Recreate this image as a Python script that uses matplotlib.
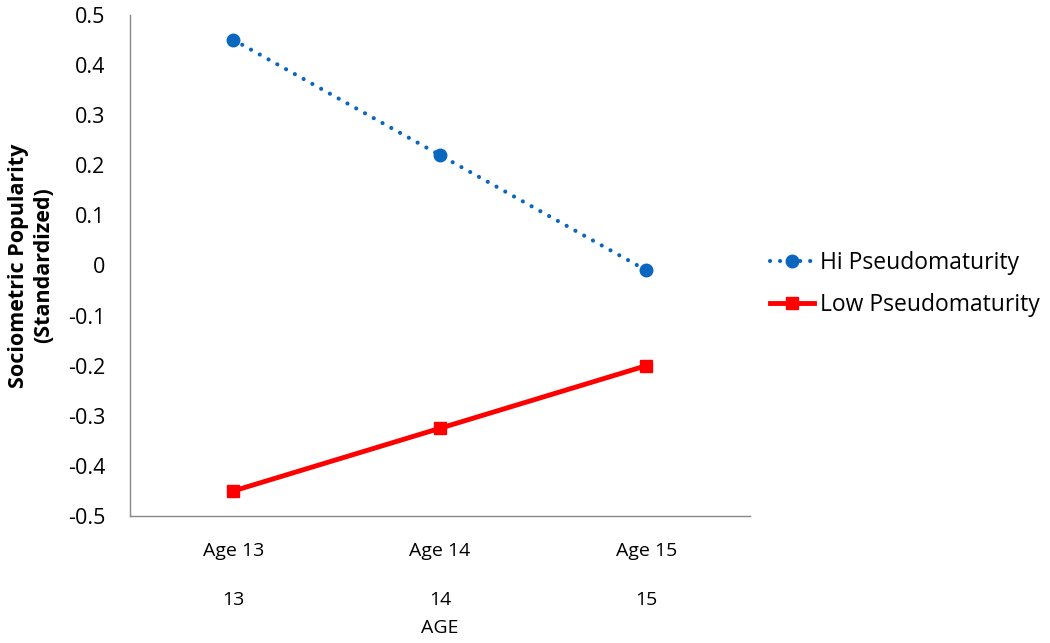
import matplotlib.pyplot as plt
import numpy as np

plt.rcParams['font.family'] = ['Open Sans', 'DejaVu Sans']

# data
ages = ["Age 13", "Age 14", "Age 15"]
age_nums = ["13", "14", "15"]
hi_pseudo = [0.45, 0.22, -0.01]
low_pseudo = [-0.45, -0.325, -0.20]
yticks = [0.5, 0.4, 0.3, 0.2, 0.1, 0, -0.1, -0.2, -0.3, -0.4, -0.5]

fig = plt.figure(figsize=(10.5, 6.43), dpi=100)
ax = fig.add_axes([0.124, 0.1975, 0.59, 0.7795])

x = np.arange(len(ages))
ax.plot(x, hi_pseudo, color="#0A66BE", linewidth=3, linestyle=(0, (0.01, 2.4)),
        dash_capstyle="round", marker="o", markersize=9, label="Hi Pseudomaturity")
ax.plot(x, low_pseudo, color="#FF0000", linewidth=3.5, marker="s", markersize=9,
        label="Low Pseudomaturity")

ax.set_xlim(-0.5, 2.5)
ax.set_ylim(-0.5, 0.5)
ax.set_yticks(yticks)
ax.set_yticklabels([f"{v:g}" for v in yticks])
ax.set_xticks(x)
ax.set_xticklabels(ages)
ax.tick_params(axis="both", length=0)
ax.tick_params(axis="x", pad=19, labelsize=14)
ax.tick_params(axis="y", pad=18, labelsize=15.5)

for s in ["top", "right"]:
    ax.spines[s].set_visible(False)
for s in ["left", "bottom"]:
    ax.spines[s].set_color("#888888")
    ax.spines[s].set_linewidth(1)

# second row of category labels
for xi, n in zip(x, age_nums):
    ax.text(xi, -0.168, n, transform=ax.get_xaxis_transform(), ha="center",
            va="center", fontsize=14)
ax.set_xlabel("AGE", fontsize=14)
ax.xaxis.set_label_coords(0.5, -0.205)

ax.set_ylabel("Sociometric Popularity\n(Standardized)", fontsize=15.5,
              fontweight="bold", linespacing=1.25)
ax.yaxis.set_label_coords(-0.123, 0.5)

ax.legend(loc="center left", bbox_to_anchor=(0.733, 0.558),
          bbox_transform=fig.transFigure, frameon=False, fontsize=16.5,
          borderpad=0, borderaxespad=0, handlelength=1.95, handletextpad=0.25,
          labelspacing=0.8)

fig.savefig("out.png", dpi=100)
